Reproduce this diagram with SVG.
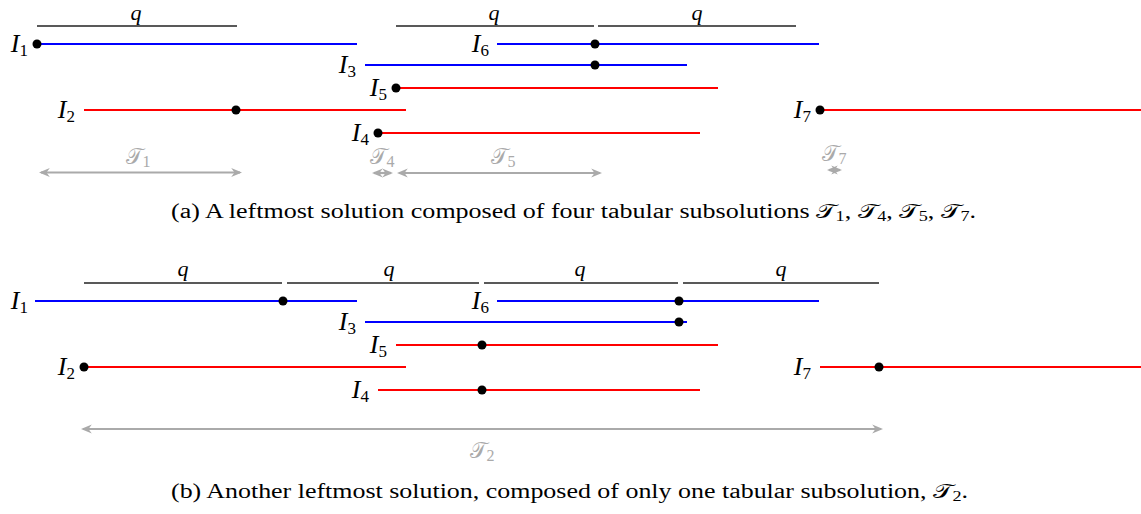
<svg xmlns="http://www.w3.org/2000/svg" width="1141" height="514" viewBox="0 0 1141 514">
<defs>
<marker id="ah" viewBox="0 0 10 10" refX="8" refY="5" markerWidth="5" markerHeight="5" orient="auto-start-reverse" markerUnits="strokeWidth">
<path d="M0,1 L10,5 L0,9 L3,5 Z" fill="#aaaaaa"/>
</marker>
</defs>
<style>
.lab{font-family:"Liberation Serif","DejaVu Serif",serif;font-style:italic;font-size:26px;fill:#000;text-anchor:end}
.sub{font-style:normal;font-size:17px}
.q{font-family:"Liberation Serif","DejaVu Serif",serif;font-style:italic;font-size:22px;fill:#000;text-anchor:middle}
.tl{font-family:"DejaVu Serif","Liberation Serif",serif;font-size:22px;fill:#aaaaaa;text-anchor:middle}
.tsub{font-size:16px;font-family:"Liberation Serif",serif}
.cap{font-family:"Liberation Serif","DejaVu Serif",serif;font-size:20px;fill:#000}
.qbar{stroke:#222;stroke-width:1.3;fill:none}
.blue{stroke:#0000ff;stroke-width:2.2;fill:none}
.red{stroke:#ff0000;stroke-width:2.2;fill:none}
.gar{stroke:#aaaaaa;stroke-width:2.2;fill:none;marker-start:url(#ah);marker-end:url(#ah)}
.dot{fill:#000}
</style>

<!-- Part (a) -->
<g id="a-qbars">
<line class="qbar" x1="37" y1="26" x2="237" y2="26"/>
<line class="qbar" x1="396" y1="26" x2="594" y2="26"/>
<line class="qbar" x1="598" y1="26" x2="796" y2="26"/>
<text class="q" x="136" y="20">q</text>
<text class="q" x="494" y="20">q</text>
<text class="q" x="697" y="20">q</text>
</g>
<g id="a-I1">
<line class="blue" x1="37" y1="44" x2="357" y2="44"/>
<circle class="dot" cx="37" cy="44" r="4.5"/>
<text class="lab" x="28" y="52">I<tspan class="sub" dy="4">1</tspan></text>
</g>
<g id="a-I6">
<line class="blue" x1="497" y1="44" x2="819" y2="44"/>
<circle class="dot" cx="595" cy="44" r="4.5"/>
<text class="lab" x="489" y="52">I<tspan class="sub" dy="4">6</tspan></text>
</g>
<g id="a-I3">
<line class="blue" x1="365" y1="65" x2="687" y2="65"/>
<circle class="dot" cx="595" cy="65" r="4.5"/>
<text class="lab" x="356" y="73">I<tspan class="sub" dy="4">3</tspan></text>
</g>
<g id="a-I5">
<line class="red" x1="396" y1="88" x2="718" y2="88"/>
<circle class="dot" cx="396" cy="88" r="4.5"/>
<text class="lab" x="387" y="96">I<tspan class="sub" dy="4">5</tspan></text>
</g>
<g id="a-I2">
<line class="red" x1="84" y1="110" x2="406" y2="110"/>
<circle class="dot" cx="236" cy="110" r="4.5"/>
<text class="lab" x="75" y="118">I<tspan class="sub" dy="4">2</tspan></text>
</g>
<g id="a-I4">
<line class="red" x1="378" y1="133" x2="700" y2="133"/>
<circle class="dot" cx="378" cy="133" r="4.5"/>
<text class="lab" x="369" y="141">I<tspan class="sub" dy="4">4</tspan></text>
</g>
<g id="a-I7">
<line class="red" x1="820" y1="110" x2="1141" y2="110"/>
<circle class="dot" cx="820" cy="110" r="4.5"/>
<text class="lab" x="811" y="118">I<tspan class="sub" dy="4">7</tspan></text>
</g>
<g id="a-T1">
<line class="gar" x1="41" y1="172.5" x2="240" y2="172.5"/>
<text class="tl" x="138" y="164">𝒯<tspan class="tsub" dy="3">1</tspan></text>
</g>
<g id="a-T4">
<line class="gar" x1="374" y1="173" x2="391" y2="173"/>
<text class="tl" x="382" y="164">𝒯<tspan class="tsub" dy="3">4</tspan></text>
</g>
<g id="a-T5">
<line class="gar" x1="399" y1="173" x2="600" y2="173"/>
<text class="tl" x="503" y="164">𝒯<tspan class="tsub" dy="3">5</tspan></text>
</g>
<g id="a-T7">
<line class="gar" x1="829" y1="170" x2="840" y2="170"/>
<text class="tl" x="834" y="161">𝒯<tspan class="tsub" dy="3">7</tspan></text>
</g>
<text class="cap" x="171" y="218" textLength="805" lengthAdjust="spacingAndGlyphs">(a) A leftmost solution composed of four tabular subsolutions 𝒯<tspan font-size="14" dy="3">1</tspan><tspan dy="-3">, 𝒯</tspan><tspan font-size="14" dy="3">4</tspan><tspan dy="-3">, 𝒯</tspan><tspan font-size="14" dy="3">5</tspan><tspan dy="-3">, 𝒯</tspan><tspan font-size="14" dy="3">7</tspan><tspan dy="-3">.</tspan></text>

<!-- Part (b) -->
<g id="b-qbars">
<line class="qbar" x1="84" y1="283" x2="282" y2="283"/>
<line class="qbar" x1="287" y1="283" x2="479" y2="283"/>
<line class="qbar" x1="484" y1="283" x2="678" y2="283"/>
<line class="qbar" x1="683" y1="283" x2="879" y2="283"/>
<text class="q" x="183" y="276">q</text>
<text class="q" x="389" y="276">q</text>
<text class="q" x="580" y="276">q</text>
<text class="q" x="781" y="276">q</text>
</g>
<g id="b-I1">
<line class="blue" x1="35" y1="301" x2="357" y2="301"/>
<circle class="dot" cx="283" cy="301" r="4.5"/>
<text class="lab" x="28" y="309">I<tspan class="sub" dy="4">1</tspan></text>
</g>
<g id="b-I6">
<line class="blue" x1="497" y1="301" x2="819" y2="301"/>
<circle class="dot" cx="679" cy="301" r="4.5"/>
<text class="lab" x="489" y="309">I<tspan class="sub" dy="4">6</tspan></text>
</g>
<g id="b-I3">
<line class="blue" x1="365" y1="322" x2="687" y2="322"/>
<circle class="dot" cx="679" cy="322" r="4.5"/>
<text class="lab" x="356" y="330">I<tspan class="sub" dy="4">3</tspan></text>
</g>
<g id="b-I5">
<line class="red" x1="396" y1="345" x2="718" y2="345"/>
<circle class="dot" cx="482" cy="345" r="4.5"/>
<text class="lab" x="387" y="353">I<tspan class="sub" dy="4">5</tspan></text>
</g>
<g id="b-I2">
<line class="red" x1="84" y1="367" x2="406" y2="367"/>
<circle class="dot" cx="84" cy="367" r="4.5"/>
<text class="lab" x="75" y="375">I<tspan class="sub" dy="4">2</tspan></text>
</g>
<g id="b-I4">
<line class="red" x1="378" y1="390" x2="700" y2="390"/>
<circle class="dot" cx="482" cy="390" r="4.5"/>
<text class="lab" x="369" y="398">I<tspan class="sub" dy="4">4</tspan></text>
</g>
<g id="b-I7">
<line class="red" x1="820" y1="367" x2="1141" y2="367"/>
<circle class="dot" cx="879" cy="367" r="4.5"/>
<text class="lab" x="811" y="375">I<tspan class="sub" dy="4">7</tspan></text>
</g>
<g id="b-T2">
<line class="gar" x1="83" y1="429" x2="881" y2="429"/>
<text class="tl" x="482" y="458">𝒯<tspan class="tsub" dy="3">2</tspan></text>
</g>
<text class="cap" x="171" y="498" textLength="797" lengthAdjust="spacingAndGlyphs">(b) Another leftmost solution, composed of only one tabular subsolution, 𝒯<tspan font-size="14" dy="3">2</tspan><tspan dy="-3">.</tspan></text>
</svg>
